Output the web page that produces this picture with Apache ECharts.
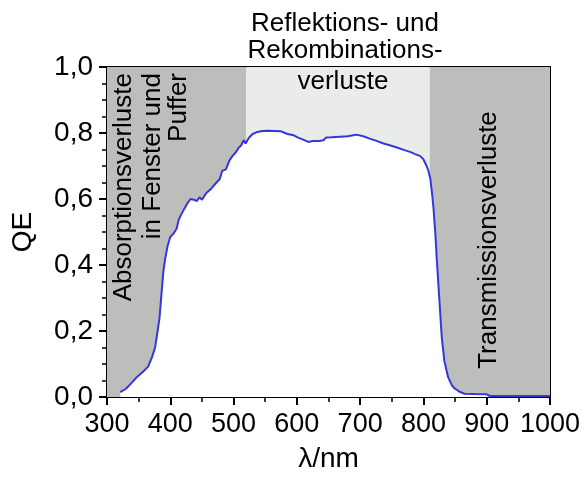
<!DOCTYPE html>
<html>
<head>
<meta charset="utf-8">
<script src="https://cdn.jsdelivr.net/npm/echarts@6/dist/echarts.min.js"></script>
<style>
  html, body { margin: 0; padding: 0; background: #fff; }
  #chart { width: 587px; height: 478px; }
</style>
</head>
<body>
<div id="chart"></div>
<script>
const wavelength = [
  321, 330, 340, 347, 356, 365, 371, 376, 380, 383, 386, 389, 392, 396, 400, 405, 410, 413, 416, 422,
  428, 432, 437, 442, 446, 450, 453, 457, 465, 473, 478, 482, 488, 493, 498, 503, 508, 512, 516, 519,
  524, 530, 536, 545, 555, 565, 575, 585, 595, 602, 610, 618, 625, 635, 642, 646, 655, 668, 680, 694,
  705, 715, 726, 737, 748, 758, 770, 780, 787, 795, 800, 805, 808, 811, 814, 816, 819, 821, 825, 829,
  833, 839, 845, 850, 858, 865, 880, 900, 905, 950, 1000
];
const qe = [
  0.015, 0.025, 0.045, 0.06, 0.075, 0.092, 0.12, 0.15, 0.2, 0.24, 0.31, 0.38, 0.42, 0.46, 0.485, 0.495, 0.51, 0.535, 0.548, 0.57,
  0.59, 0.6, 0.598, 0.594, 0.605, 0.598, 0.602, 0.618, 0.632, 0.65, 0.66, 0.685, 0.69, 0.715, 0.73, 0.74, 0.755, 0.762, 0.778, 0.768,
  0.785, 0.797, 0.802, 0.806, 0.807, 0.806, 0.805, 0.797, 0.793, 0.786, 0.78, 0.773, 0.776, 0.776, 0.778, 0.786, 0.787, 0.789, 0.79, 0.795,
  0.79, 0.783, 0.776, 0.768, 0.762, 0.756, 0.748, 0.742, 0.736, 0.73, 0.72, 0.7, 0.685, 0.66, 0.61, 0.57, 0.49, 0.42, 0.3, 0.18,
  0.11, 0.06, 0.035, 0.025, 0.015, 0.01, 0.009, 0.008, 0.003, 0.003, 0.003
];
// loss regions along the wavelength axis (nm)
const bandEdges = [[300, 520], [520, 810], [810, 1000]];
const bandColors = ["#bdbebc", "#e9ece8", "#bdbebc"];

const font = "'Liberation Sans', Arial, sans-serif";
const fs = 26;
const tickFs = 28;

const chart = echarts.init(document.getElementById("chart"));

const comma = (v) => v.toFixed(1).replace(".", ",");

// helper for plain text annotations
const label = (text, pos, opts) => ({
  type: "text",
  position: pos,
  z: 10,
  rotation: opts.rot || 0,
  style: {
    text: text,
    font: fs + "px " + font,
    fill: "#000",
    textAlign: opts.align || "center",
    textVerticalAlign: opts.valign || "middle"
  }
});

const option = {
  animation: false,
  grid: { left: 107, right: 37, top: 67, bottom: 78, show: true, borderColor: "#000", borderWidth: 2, backgroundColor: "#fff" },
  xAxis: {
    type: "value",
    min: 300,
    max: 1000,
    interval: 100,
    name: "λ/nm",
    nameLocation: "middle",
    nameGap: 48,
    nameTextStyle: { fontFamily: font, fontSize: tickFs, color: "#000" },
    axisLine: { lineStyle: { color: "#000", width: 2 } },
    axisTick: { length: 8, lineStyle: { color: "#000", width: 2 } },
    minorTick: { show: true, splitNumber: 2, length: 5, lineStyle: { color: "#000", width: 1.5 } },
    splitLine: { show: false },
    axisLabel: { fontFamily: font, fontSize: tickFs - 1, color: "#000", margin: 14, formatter: (v) => String(v) }
  },
  yAxis: {
    type: "value",
    min: 0,
    max: 1,
    interval: 0.2,
    name: "QE",
    nameLocation: "middle",
    nameGap: 70,
    nameTextStyle: { fontFamily: font, fontSize: tickFs, color: "#000" },
    axisLine: { lineStyle: { color: "#000", width: 2 } },
    axisTick: { length: 8, lineStyle: { color: "#000", width: 2 } },
    minorTick: { show: true, splitNumber: 4, length: 5, lineStyle: { color: "#000", width: 1.5 } },
    splitLine: { show: false },
    axisLabel: { fontFamily: font, fontSize: tickFs, color: "#000", margin: 14, formatter: comma }
  },
  series: [
    {
      type: "line",
      data: wavelength.map((w, i) => [w, qe[i]]),
      symbol: "none",
      lineStyle: { color: "#3636dc", width: 2 },
      areaStyle: { color: "#fff", opacity: 1 },
      z: 3,
      markArea: {
        silent: true,
        data: bandEdges.map((b, i) => [
          { xAxis: b[0], itemStyle: { color: bandColors[i] } },
          { xAxis: b[1] }
        ])
      }
    }
  ],
  graphic: [
    label("Reflektions- und", [345, 37], { valign: "bottom" }),
    label("Rekombinations-", [345, 64], { valign: "bottom" }),
    label("verluste", [343, 95], { valign: "bottom" }),
    label("Absorptionsverluste", [124, 73], { rot: Math.PI / 2, align: "right" }),
    label("in Fenster und", [153, 73], { rot: Math.PI / 2, align: "right" }),
    label("Puffer", [179, 73], { rot: Math.PI / 2, align: "right" }),
    label("Transmissionsverluste", [489, 240], { rot: Math.PI / 2 })
  ]
};

chart.setOption(option);
</script>
</body>
</html>
